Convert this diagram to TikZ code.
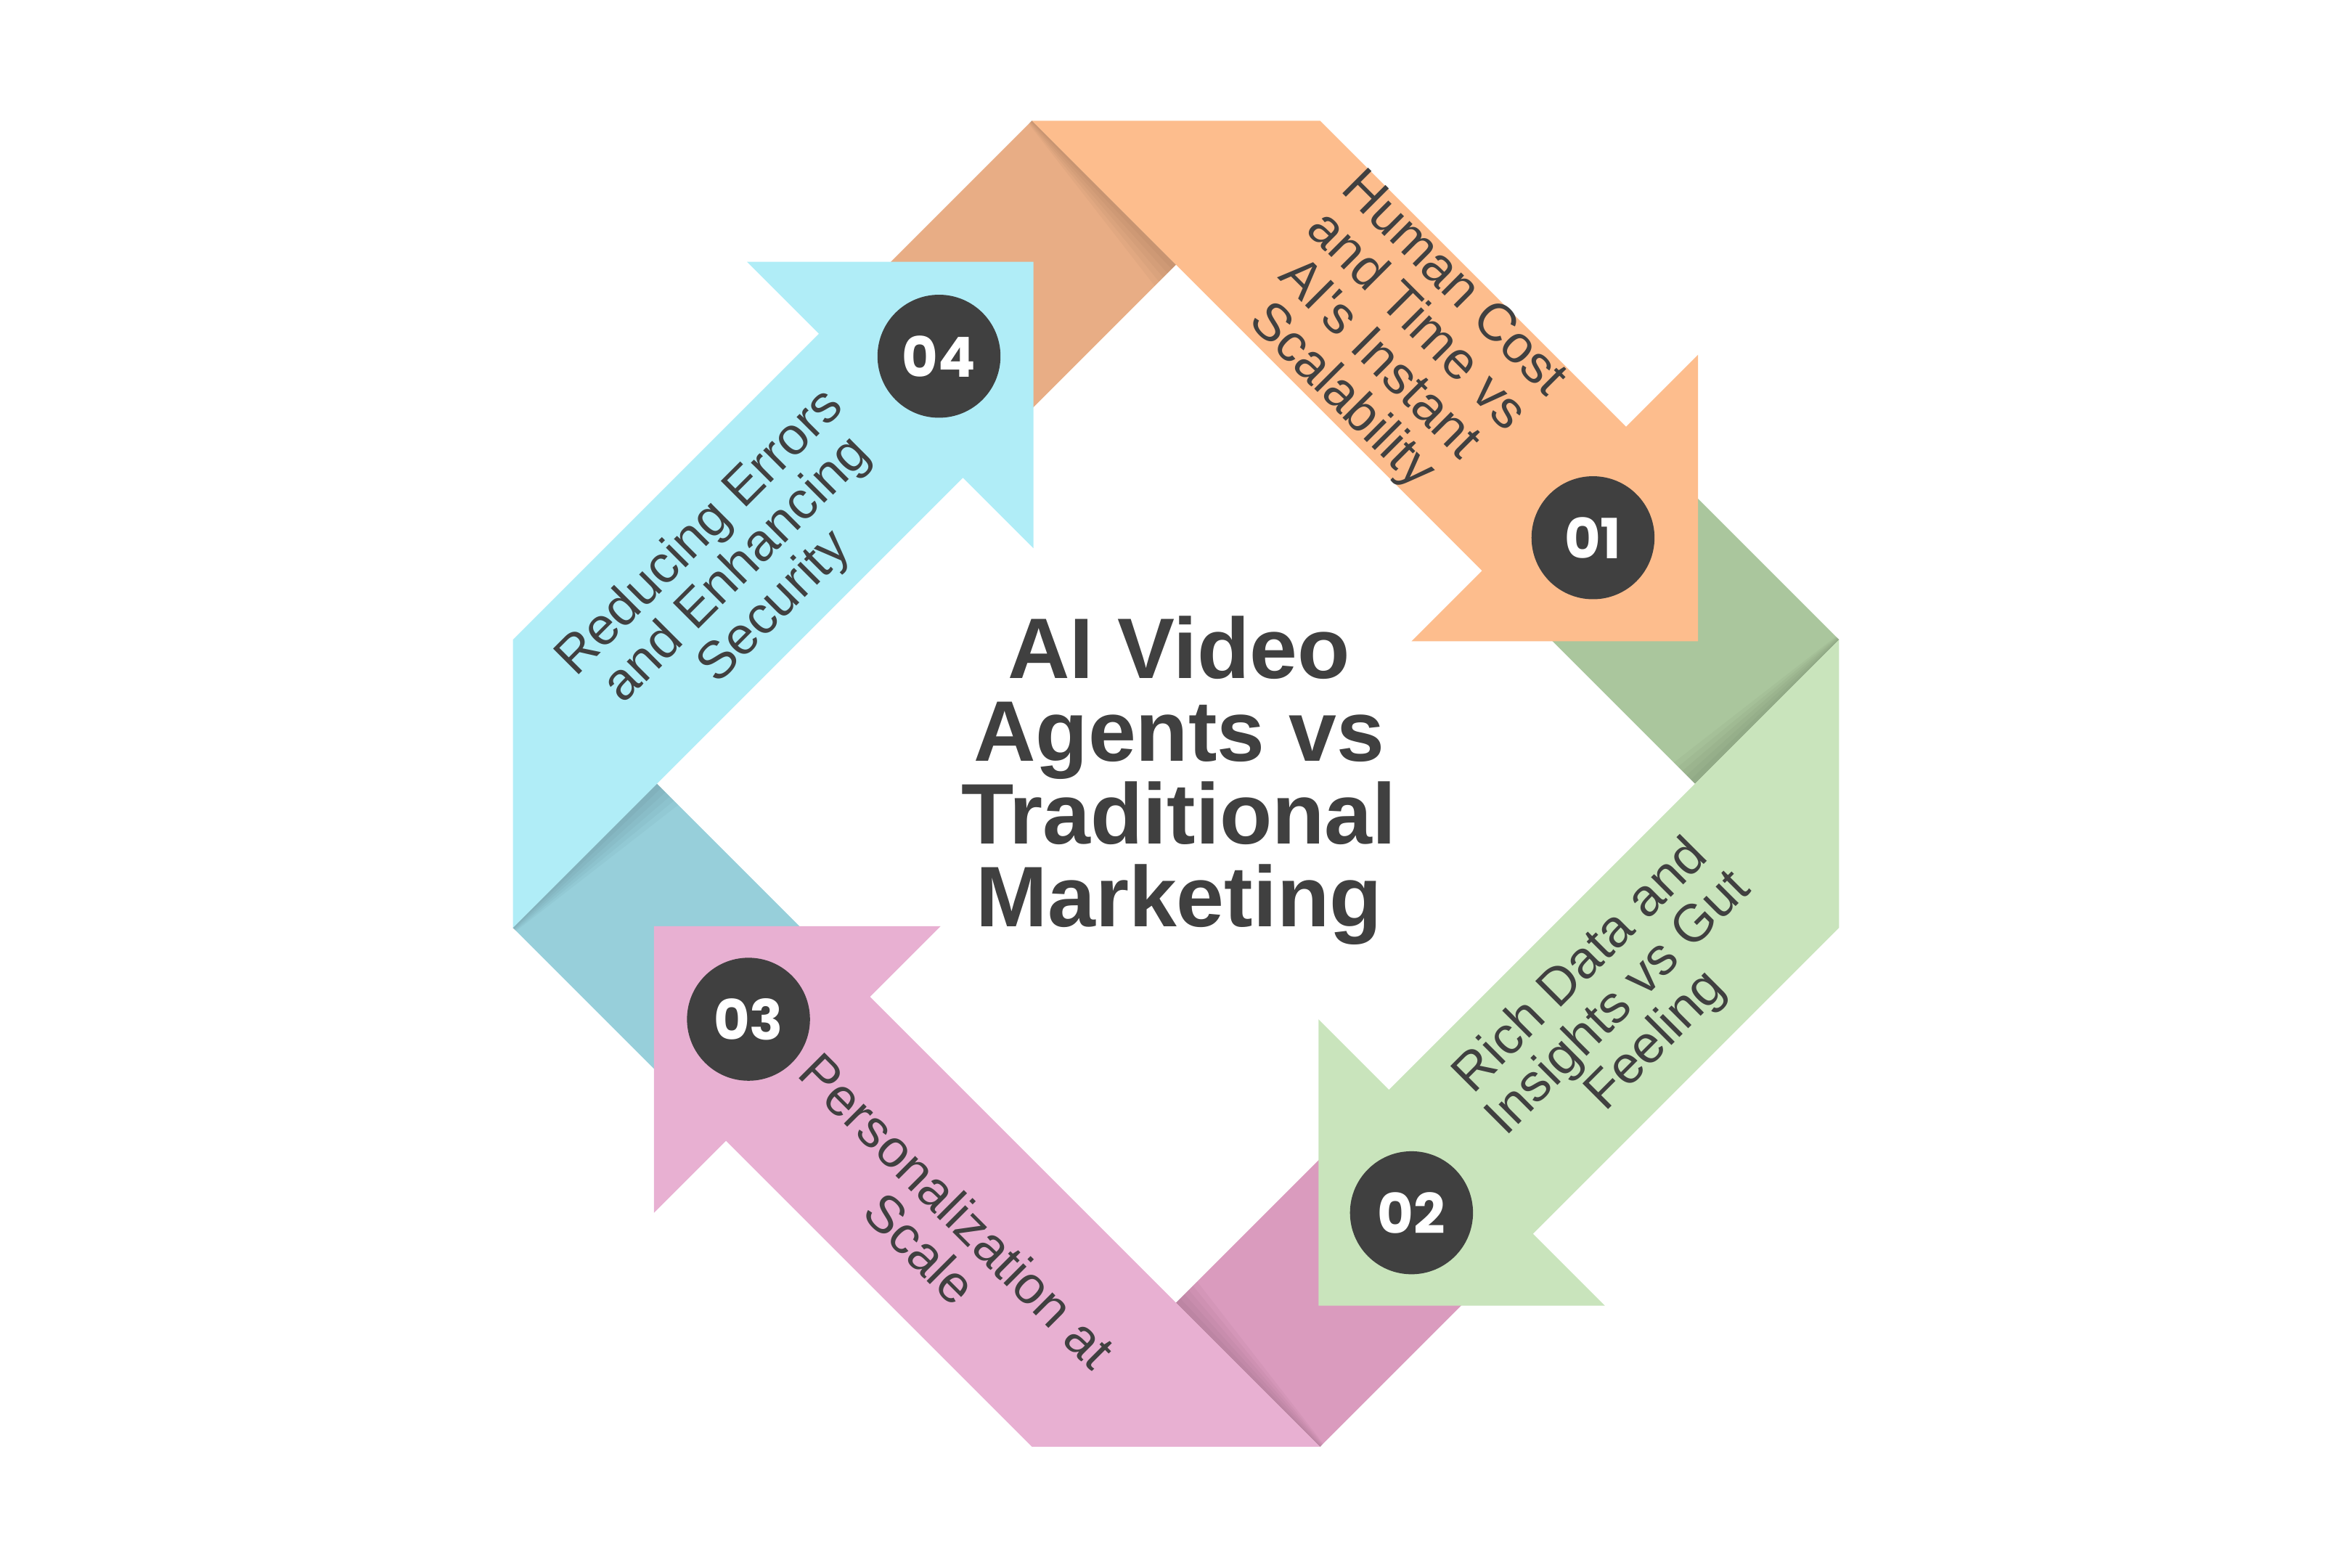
\documentclass[tikz,border=0pt]{standalone}
\usepackage{fontspec}
\setmainfont{Liberation Sans}
\newfontfamily\numfont{Poppins}

\definecolor{orangeL}{HTML}{FDBD8D}
\definecolor{orangeD}{HTML}{E8AD85}
\definecolor{greenL}{HTML}{C9E4BC}
\definecolor{greenD}{HTML}{AAC69D}
\definecolor{pinkL}{HTML}{E8B0D2}
\definecolor{pinkD}{HTML}{DA9BBE}
\definecolor{cyanL}{HTML}{B0EDF7}
\definecolor{cyanD}{HTML}{97CFDA}
\definecolor{dotgray}{HTML}{404040}
\definecolor{txtgray}{HTML}{404040}

\begin{document}
\begin{tikzpicture}[
    numdot/.style={circle, fill=dotgray, minimum size=0.82cm, inner sep=0pt, text=white, font=\numfont\bfseries\fontsize{10.5}{12}\selectfont},
    lbl/.style={align=center, text=txtgray, font=\fontsize{10}{10}\selectfont},
]
    \useasboundingbox[fill=white] (-7.84,-5.225) rectangle (7.84,5.225);

    % Folded backs of the ribbons
    \foreach \r/\c in {0/orangeD, -90/greenD, -180/pinkD, -270/cyanD}
        \fill[\c, rotate=\r] (-0.96,4.42) -- (0,3.46) -- (-1.42,2.04) -- (-2.38,3.0) -- cycle;

    % Shadow along each fold
    \foreach \r in {0,-90,-180,-270}
        \foreach \w in {0.04,0.08,...,0.24}
            \fill[black, opacity=0.027, rotate=\r, shift={(0,3.46)}, rotate=135] (0,0) -- (1.36,0) -- (1.36,0.15*\w) -- (0,\w) -- cycle;

    % Ribbon fronts with arrowheads
    \foreach \r/\c in {0/orangeL, -90/greenL, -180/pinkL, -270/cyanL}
        \fill[\c, rotate=\r] (-0.96,4.42) -- (0.96,4.42) -- (3.0,2.38) -- (3.48,2.86) -- (3.48,0.95) -- (1.57,0.95) -- (2.04,1.42) -- (0,3.46) -- cycle;

    % Step numbers
    \node[numdot] (N1) at (2.78,1.64) {01};
    \node[numdot] (N2) at (1.57,-2.86) {02};
    \node[numdot] (N3) at (-2.85,-1.57) {03};
    \node[numdot] (N4) at (-1.58,2.85) {04};

    % Step texts
    \node[lbl, rotate=-45] (L1) at (1.47,2.95) {Human Cost\\and Time vs\\AI\textquotesingle s Instant\\Scalability};
    \node[lbl, rotate=45] (L2) at (2.955,-1.47) {Rich Data and\\Insights vs Gut\\Feeling};
    \node[lbl, rotate=-45] (L3) at (-1.58,-2.97) {Personalization at\\Scale};
    \node[lbl, rotate=45] (L4) at (-2.92,1.42) {Reducing Errors\\and Enhancing\\Security};

    % Title
    \node[align=center, text=txtgray, font=\bfseries\fontsize{16.3}{15.7}\selectfont] (T) at (0.02,0.02) {AI Video\\Agents vs\\Traditional\\Marketing};
\end{tikzpicture}
\end{document}
